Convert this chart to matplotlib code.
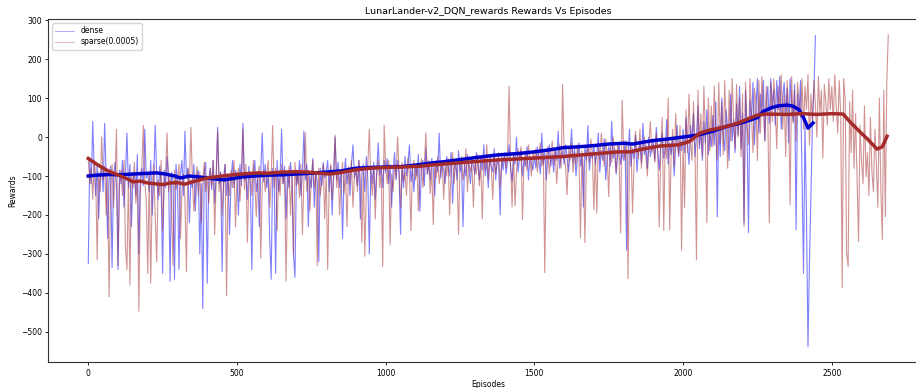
import numpy as np
import matplotlib
matplotlib.use("Agg")
import matplotlib.pyplot as plt

# Episode rewards, one value every 5 episodes
EP_STEP = 5

dense_rewards = [
    -325, -60, -120, 40, -90, -150, -70, -210, -105, -80, -140, 35, -95, -260, -110, -75, -335, -100, -65, -130,
    -340, -85, -120, -60, -180, -95, 10, -130, -70, -230, -110, -90, -150, -45, -300, -100, -80, -125, 20, -105,
    -90, -140, -60, -200, -110, 30, -95, -160, -75, -120, -350, -85, -130, -50, -100, -370, -90, -115, -365, -70,
    -120, -340, -95, -60, -150, 15, -105, -80, -220, -110, -130, -70, -190, -100, -85, -300, -120, -440, -90, -65,
    -375, -110, -80, -135, -60, -170, -100, 25, -120, -90, -345, -105, -70, -150, -95, -250, -115, -60, -130, -85,
    -100, -200, -70, -125, 35, -110, -90, -160, -75, -120, -340, -95, -60, -140, -105, -230, -85, 10, -115, -70,
    -130, -95, -260, -365, -80, -110, -350, -60, -140, -100, 20, -120, -75, -210, -90, -130, -65, -105, -300, -360,
    -85, -120, -60, -150, -95, 15, -110, -70, -230, -100, -130, -55, -180, -90, -115, -320, -80, -125, -65, -105,
    -90, -60, -140, -75, -200, -95, 0, -110, -65, -130, -85, -260, -100, -55, -120, -80, -150, -70, -20, -105,
    -85, -125, -60, -210, -95, -70, -140, -50, -110, -300, -80, -120, -65, -160, -90, -15, -100, -75, -130, -60,
    -90, -55, -120, -70, -180, -85, -40, -110, -60, -95, -250, -75, -130, -50, -100, -65, -20, -115, -80, -140,
    -70, -100, -45, -190, -85, -60, -125, -30, -95, -70, -110, -55, -80, -150, -60, -90, 10, -105, -65, -85,
    -120, -50, -75, -100, -40, -170, -85, -60, -110, -35, -90, -65, -230, -70, -100, -45, -80, -120, -55, -75,
    -95, -40, -70, -110, -50, -85, -20, -100, -60, -130, -45, -75, -90, -30, -110, -55, -70, -200, -50, -85,
    -40, -95, -60, -20, -80, -115, -45, -70, 0, -90, -55, -35, -100, -60, -75, -25, -110, -50, -65, -85,
    -50, -80, -25, -60, -95, 10, -70, -40, -110, -55, -20, -75, -45, -90, -30, -60, 15, -80, -50, -35,
    -70, -20, -55, -90, -40, 20, -65, -30, -100, -50, -15, -75, -45, -180, -25, -60, 30, -85, -40, -55,
    -20, -70, -45, 10, -90, -35, -60, -5, -110, -50, -25, -75, 40, -55, -30, -95, -45, -15, -70, -40,
    -60, -10, -290, -40, 20, -75, -30, -55, 5, -90, -35, -15, -65, 35, -45, -20, -80, 0, -50, -25,
    -10, -60, 25, -40, -85, -20, 10, -55, -30, 45, -70, -15, -45, 0, -100, -25, 30, -50, -10, -35,
    20, -40, 50, -20, -70, 30, -10, 60, -50, 0, 80, -30, 15, -60, 40, -15, 70, -45, 10, -25,
    55, -20, 90, -205, 30, -50, 100, 0, -35, 70, 15, -60, 110, -10, 45, -40, 85, 5, 130, -30,
    60, -220, 120, 20, -245, 95, 40, 140, -20, 75, 150, 10, 110, 55, 145, -10, 90, 130, 35, 150,
    80, 120, 30, 145, 70, 155, 20, 100, 140, 60, 125, -15, 150, 85, 40, 135, -238, 110, 60, 145,
    -100, -350, 30, -200, -538, -320, -150, 40, 120, 260,
]

sparse_rewards = [
    -55, -120, -80, -160, -60, -100, -315, -90, -140, 0, -110, -75, -200, -95, -410, -130, -70, -180, -100, 20,
    -330, -120, -85, -150, -60, -280, -340, -105, -380, -90, -130, -65, -170, -110, -447, -140, -80, 30, -115, -160,
    -350, -95, -375, -130, -70, -200, -320, -110, -150, -60, -240, -125, -90, 10, -140, -100, -180, -330, -85, -135,
    -110, -70, -260, -140, -95, -160, -345, -80, -120, 25, -105, -190, -130, -75, -150, -90, -220, -115, -65, -140,
    -100, -170, -80, -125, -60, -250, -110, 15, -140, -90, -200, -120, -70, -407, -105, -150, -85, -130, -60, -230,
    -115, -80, -165, -95, 20, -135, -70, -270, -110, -90, -150, -60, -125, -205, -100, -75, -310, -120, -85, -140,
    -95, -60, -180, -110, 30, -130, -80, -240, -105, -150, -70, -120, -90, -370, -135, -75, -200, -100, -300, -65,
    -125, -90, -155, -70, -250, -110, 10, -140, -85, -190, -105, -60, -130, -95, -330, -80, -150, -115, -70, -210,
    -90, -340, -120, -70, -160, -100, 5, -130, -85, -200, -110, -65, -145, -95, -230, -75, -120, -60, -180, -100,
    -80, -140, -60, -110, -270, -90, -306, -125, -70, 20, -105, -150, -80, -210, -95, -60, -130, -85, -332, 30,
    -75, -120, -60, -277, -95, -140, -70, -105, 0, -85, -180, -65, -115, -90, -150, -55, -100, -240, -80, -60,
    -110, -70, -190, -85, -55, -130, -75, 10, -95, -60, -145, -80, -225, -70, -105, -50, -120, -85, -65, -160,
    -75, -100, -55, -200, -80, -40, -120, -65, -95, -250, -70, -50, -110, -85, -30, -140, -60, -90, -70, -180,
    -65, -95, -45, -125, -70, -210, -55, -85, -20, -110, -60, -75, -160, -50, -95, -65, -40, -130, -70, -55,
    -50, -80, -35, 130, -65, -179, -45, -176, -90, -30, -60, -25, -212, -70, -40, -85, -20, -55, -100, -35,
    -60, -30, -90, -45, -15, -75, -40, -348, -55, -25, -95, -50, -10, -70, -35, -120, -55, -20, -80, 135,
    -45, -75, -148, -30, -60, -15, -90, -40, -70, -20, -55, -258, -35, -85, -271, -50, -25, -65, -5, -45,
    -187, -40, -195, -20, -60, 10, -35, -75, -5, -50, -153, -25, -65, 0, -40, -90, -15, -55, -246, 95,
    -30, -60, -10, -363, -45, -20, -195, -70, 15, -35, -55, 20, -80, -25, 0, -50, -100, -15, 40, -40,
    -20, -65, 10, -45, -230, -30, 50, -240, -10, -55, 100, -238, -35, 20, -75, 60, -20, -45, 30, -290,
    -10, -180, 70, -40, 110, -15, -60, 90, -30, -315, 120, -20, 60, -50, 130, 0, -220, 100, -35, 80,
    -25, 130, 10, -60, 140, -15, 90, -45, 145, 20, -80, 120, -10, 150, 40, -30, 135, 0, 100, -50,
    110, -230, 140, 30, -20, 150, 60, -40, 125, 90, -60, 145, 10, 155, 70, -10, 130, 50, -220, 140,
    40, 150, 80, -30, 130, 60, 160, 20, 110, -50, 145, 75, -174, 155, 35, 120, -10, 140, 90, 50,
    150, 20, 130, 70, 160, -20, 110, 40, 145, 80, 0, 155, 60, 120, -54, 135, 90, 30, 150, 70,
    130, 40, 160, 80, 10, 145, 60, -386, 150, 100, -297, -332, 90, -40, 120, -80, 60, -100, -268, 30,
    -60, -120, 80, -102, -40, -150, 50, -90, -140, 20, -70, -180, 100, -130, -263, 120, -204, 140, 262,
]

# Running-average reward curves
dense_avg_eps = [0, 25, 50, 75, 100, 150, 200, 230, 260, 290, 310, 340, 380, 420, 455, 490, 520, 560,
                 600, 650, 700, 750, 800, 850, 900, 950, 1000, 1050, 1100, 1150, 1200, 1250, 1300,
                 1375, 1450, 1500, 1550, 1600, 1650, 1700, 1750, 1800, 1830, 1860, 1900, 1950, 2000,
                 2050, 2100, 2150, 2200, 2250, 2270, 2300, 2320, 2350, 2370, 2390, 2405, 2420, 2437]
dense_avg = [-100, -98, -97, -96, -97, -95, -93, -92, -95, -100, -105, -100, -103, -107, -110, -106,
             -102, -100, -98, -97, -95, -93, -90, -87, -80, -78, -77, -76, -72, -67, -63, -58, -53,
             -46, -42, -38, -33, -27, -25, -22, -18, -16, -18, -14, -9, -5, 0, 5, 15, 28, 37, 50, 66,
             76, 80, 82, 79, 70, 50, 23, 36]

sparse_avg_eps = [0, 25, 50, 75, 100, 125, 150, 175, 200, 225, 250, 275, 300, 325, 350, 375, 400, 450,
                  500, 567, 600, 650, 700, 736, 780, 813, 850, 900, 950, 1000, 1050, 1116, 1150, 1200,
                  1250, 1300, 1375, 1450, 1500, 1597, 1687, 1750, 1788, 1822, 1870, 1923, 1984, 2020,
                  2057, 2090, 2124, 2160, 2192, 2220, 2249, 2280, 2350, 2400, 2450, 2500, 2538, 2560,
                  2595, 2620, 2652, 2670, 2686]
sparse_avg = [-55, -68, -80, -90, -97, -105, -115, -113, -118, -120, -122, -118, -117, -121, -115, -110,
              -105, -100, -96, -92, -93, -90, -89, -90, -93, -95, -91, -84, -80, -78, -77, -75, -72, -69,
              -66, -63, -59, -56, -54, -50, -44, -40, -38, -38, -30, -23, -20, -12, 10, 18, 23, 30, 38,
              47, 56, 59, 58, 60, 58, 60, 59, 40, 13, -5, -31, -25, 2]

dense_eps = np.arange(len(dense_rewards)) * EP_STEP
sparse_eps = np.arange(len(sparse_rewards)) * EP_STEP

plt.rcParams["font.family"] = ["DejaVu Sans"]

fig = plt.figure(figsize=(9.16, 3.88), dpi=100)
ax = fig.add_axes([0.0527, 0.0662, 0.9607, 0.884])

ax.plot(dense_eps, dense_rewards, color="blue", alpha=0.5, linewidth=0.8, label="dense")
ax.plot(sparse_eps, sparse_rewards, color="brown", alpha=0.5, linewidth=0.8, label="sparse(0.0005)")
ax.plot(dense_avg_eps, dense_avg, color="mediumblue", linewidth=2.5)
ax.plot(sparse_avg_eps, sparse_avg, color="brown", linewidth=2.5)

ax.set_xticks(np.arange(0, 2501, 500))
ax.set_yticks(np.arange(-500, 301, 100))
ax.tick_params(labelsize=5.5, length=2.5, width=0.6, pad=2)
for sp in ax.spines.values():
    sp.set_linewidth(0.8)
    sp.set_color("#333333")

ax.set_title("LunarLander-v2_DQN_rewards Rewards Vs Episodes", fontsize=6.8, pad=4)
ax.set_xlabel("Episodes", fontsize=5.5, labelpad=2)
ax.set_ylabel("Rewards", fontsize=5.5, labelpad=3)

leg = ax.legend(loc="upper left", fontsize=5.5, frameon=True, handlelength=2.5,
                borderpad=0.4, labelspacing=0.3)
for h in leg.legend_handles:
    h.set_alpha(0.3)

fig.savefig("out.png", dpi=100)
